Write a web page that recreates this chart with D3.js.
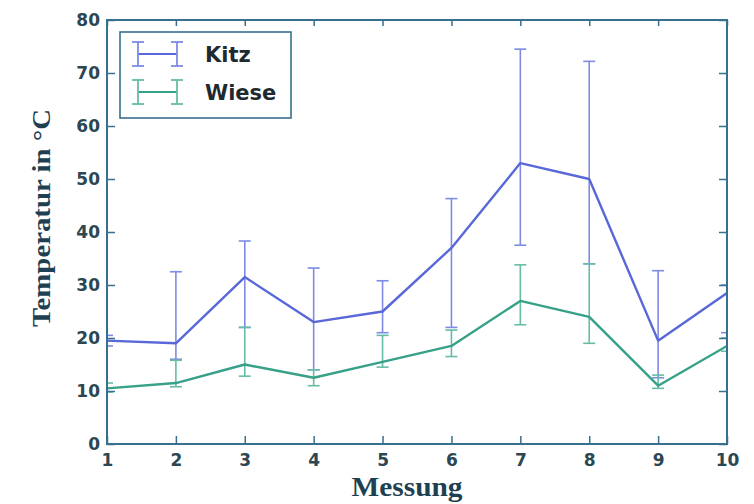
<!DOCTYPE html>
<html>
<head>
<meta charset="utf-8">
<script src="https://cdn.jsdelivr.net/npm/d3@7"></script>
<style>
  body { margin: 0; background: #fff; }
  svg { display: block; }
</style>
</head>
<body>
<svg id="chart" width="754" height="504"></svg>
<script>
const messung = [1, 2, 3, 4, 5, 6, 7, 8, 9, 10];
const kitz = [19.5, 19, 31.5, 23, 25, 37, 53, 50, 19.5, 28.5];
const kitzHigh = [20.5, 32.5, 38.3, 33.2, 30.8, 46.3, 74.5, 72.2, 32.7, 30];
const kitzLow = [18.5, 16, 22, 14, 21, 22, 37.5, 34, 12.5, 21];
const wiese = [10.5, 11.5, 15, 12.5, 15.5, 18.5, 27, 24, 11, 18.5];
const wieseHigh = [11.5, 15.8, 22, 14, 20.5, 21.5, 33.8, 34, 13, 20];
const wieseLow = [9.8, 10.8, 12.8, 11, 14.5, 16.5, 22.5, 19, 10.5, 17.5];
const yTicks = [0, 10, 20, 30, 40, 50, 60, 70, 80];
const seriesNames = ['Kitz', 'Wiese'];

const axisColor = '#36708e';
const labelColor = '#2c4652';
const colors = { line: ['#5868d8', '#36a088'], err: ['#7d8be4', '#66bca6'] };

const plot = { left: 107, right: 727, top: 20, bottom: 444 };

const svg = d3.select('#chart');

const x = d3.scaleLinear().domain([1, 10]).range([plot.left, plot.right]);
const y = d3.scaleLinear().domain([0, 80]).range([plot.bottom, plot.top]);

svg.append('clipPath').attr('id', 'clip')
    .append('rect')
    .attr('x', plot.left).attr('y', plot.top)
    .attr('width', plot.right - plot.left).attr('height', plot.bottom - plot.top);

const series = [
    { name: seriesNames[0], values: kitz, hi: kitzHigh, lo: kitzLow },
    { name: seriesNames[1], values: wiese, hi: wieseHigh, lo: wieseLow }
];

const line = d3.line()
    .x((d, i) => x(messung[i]))
    .y(d => y(d));

const marks = svg.append('g').attr('clip-path', 'url(#clip)');

series.forEach(function(s, k) {
    const g = marks.append('g');
    const errs = g.selectAll('g.err')
        .data(messung).enter()
        .append('g').attr('class', 'err')
        .attr('stroke', colors.err[k])
        .attr('stroke-width', 1.6)
        .attr('fill', 'none');
    errs.append('line')
        .attr('x1', d => x(d)).attr('x2', d => x(d))
        .attr('y1', (d, i) => y(s.hi[i])).attr('y2', (d, i) => y(s.lo[i]));
    errs.append('line')
        .attr('x1', d => x(d) - 6).attr('x2', d => x(d) + 6)
        .attr('y1', (d, i) => y(s.hi[i])).attr('y2', (d, i) => y(s.hi[i]));
    errs.append('line')
        .attr('x1', d => x(d) - 6).attr('x2', d => x(d) + 6)
        .attr('y1', (d, i) => y(s.lo[i])).attr('y2', (d, i) => y(s.lo[i]));
});

series.forEach(function(s, k) {
    marks.append('path')
        .datum(s.values)
        .attr('d', line)
        .attr('fill', 'none')
        .attr('stroke', colors.line[k])
        .attr('stroke-width', 2.4)
        .attr('stroke-linejoin', 'round');
});

// Achsen
function styleAxis(g) {
    g.select('.domain').remove();
    g.selectAll('.tick line').attr('stroke', axisColor).attr('stroke-width', 1.5);
    g.selectAll('.tick text')
        .attr('fill', labelColor)
        .style('font-family', '"DejaVu Sans", sans-serif')
        .style('font-weight', 'bold')
        .style('font-size', '17px');
}

svg.append('g')
    .attr('transform', `translate(${plot.left},0)`)
    .call(d3.axisLeft(y).tickValues(yTicks).tickSize(-8).tickPadding(7))
    .call(styleAxis);

svg.append('g')
    .attr('transform', `translate(0,${plot.bottom})`)
    .call(d3.axisBottom(x).tickValues(messung).tickFormat(d3.format('d')).tickSize(-8).tickPadding(10))
    .call(styleAxis);

svg.append('g')
    .attr('transform', `translate(0,${plot.top})`)
    .call(d3.axisTop(x).tickValues(messung).tickFormat('').tickSize(-6))
    .call(styleAxis);

svg.append('g')
    .attr('transform', `translate(${plot.right},0)`)
    .call(d3.axisRight(y).tickValues(yTicks).tickFormat('').tickSize(-8))
    .call(styleAxis);

svg.append('rect')
    .attr('x', plot.left).attr('y', plot.top)
    .attr('width', plot.right - plot.left).attr('height', plot.bottom - plot.top)
    .attr('fill', 'none')
    .attr('stroke', axisColor)
    .attr('stroke-width', 2);

// Achsentitel
svg.append('text')
    .attr('transform', 'translate(50,218) rotate(-90)')
    .attr('text-anchor', 'middle')
    .attr('textLength', 218)
    .attr('lengthAdjust', 'spacingAndGlyphs')
    .attr('fill', '#1f3f52')
    .style('font-family', '"Liberation Serif", serif')
    .style('font-weight', 'bold')
    .style('font-size', '25px')
    .text('Temperatur in °C');

svg.append('text')
    .attr('x', 407).attr('y', 496)
    .attr('text-anchor', 'middle')
    .attr('textLength', 111)
    .attr('lengthAdjust', 'spacingAndGlyphs')
    .attr('fill', '#1f3f52')
    .style('font-family', '"Liberation Serif", serif')
    .style('font-weight', 'bold')
    .style('font-size', '27px')
    .text('Messung');

// Legende
const legend = svg.append('g');
legend.append('rect')
    .attr('x', 120).attr('y', 32)
    .attr('width', 171).attr('height', 86)
    .attr('fill', '#fff')
    .attr('stroke', axisColor)
    .attr('stroke-width', 1.6);

series.forEach(function(s, k) {
    const cy = 54 + k * 38;
    const item = legend.append('g')
        .attr('stroke', colors.err[k])
        .attr('stroke-width', 1.8);
    item.append('line').attr('x1', 138).attr('x2', 177).attr('y1', cy).attr('y2', cy)
        .attr('stroke', colors.line[k]);
    [138, 177].forEach(function(xx) {
        item.append('line').attr('x1', xx).attr('x2', xx).attr('y1', cy - 12).attr('y2', cy + 12);
        item.append('line').attr('x1', xx - 6).attr('x2', xx + 6).attr('y1', cy - 12).attr('y2', cy - 12);
        item.append('line').attr('x1', xx - 6).attr('x2', xx + 6).attr('y1', cy + 12).attr('y2', cy + 12);
    });
    legend.append('text')
        .attr('x', 205).attr('y', cy + 8)
        .attr('fill', '#1e2a30')
        .style('font-family', '"DejaVu Sans", sans-serif')
        .style('font-weight', 'bold')
        .style('font-size', '21px')
        .text(s.name);
});
</script>
</body>
</html>
